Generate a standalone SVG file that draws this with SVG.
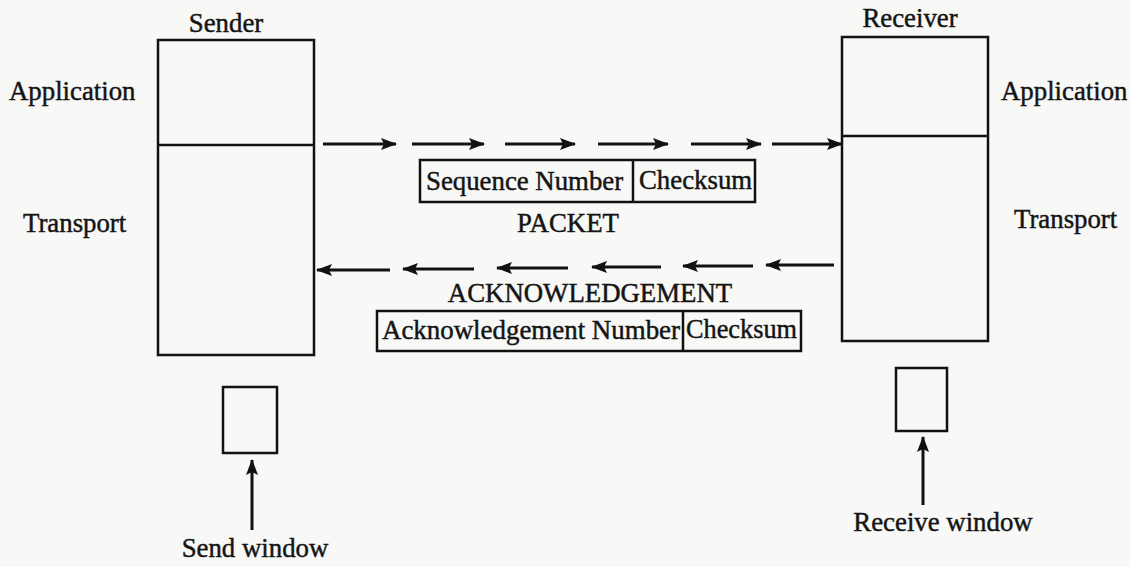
<svg xmlns="http://www.w3.org/2000/svg" width="1130" height="567" viewBox="0 0 1130 567">
  <style>
    .box { fill: none; stroke: #111; stroke-width: 2.5; }
    .txt { font-family: "Liberation Serif", "Times New Roman", serif; font-size: 26.8px; fill: #141414; stroke: #141414; stroke-width: 0.45; }
    .mid { text-anchor: middle; }
    .arr { stroke: #111; stroke-width: 3; fill: none; }
  </style>
  <defs>
    <marker id="head" viewBox="0 0 16 12" refX="15" refY="6" markerWidth="16" markerHeight="12" markerUnits="userSpaceOnUse" orient="auto">
      <path d="M0,0 L16,6 L0,12 L3,6 Z" fill="#111"/>
    </marker>
  </defs>
  <rect width="1130" height="567" fill="#f8f8f6"/>

  <!-- sender stack -->
  <g id="sender">
    <rect class="box" x="158" y="40" width="156" height="315"/>
    <line class="box" x1="158" y1="145" x2="314" y2="145"/>
    <text class="txt mid" x="226" y="32">Sender</text>
    <text class="txt" x="9" y="100">Application</text>
    <text class="txt" x="23" y="232">Transport</text>
  </g>

  <!-- receiver stack -->
  <g id="receiver">
    <rect class="box" x="842" y="37" width="146" height="304"/>
    <line class="box" x1="842" y1="136" x2="988" y2="136"/>
    <text class="txt mid" x="910" y="27">Receiver</text>
    <text class="txt" x="1001" y="100">Application</text>
    <text class="txt" x="1014" y="228">Transport</text>
  </g>

  <!-- packet format -->
  <g id="packet">
    <rect class="box" x="420" y="160" width="335" height="42"/>
    <line class="box" x1="633" y1="160" x2="633" y2="202"/>
    <text class="txt" x="426" y="190">Sequence Number</text>
    <text class="txt" x="639" y="189">Checksum</text>
    <text class="txt mid" x="568" y="232">PACKET</text>
  </g>

  <!-- acknowledgement format -->
  <g id="ack">
    <text class="txt mid" x="590" y="302">ACKNOWLEDGEMENT</text>
    <rect class="box" x="377" y="311" width="424" height="40"/>
    <line class="box" x1="683" y1="311" x2="683" y2="351"/>
    <text class="txt" x="382" y="339" textLength="298" lengthAdjust="spacingAndGlyphs">Acknowledgement Number</text>
    <text class="txt" x="686" y="338" textLength="111" lengthAdjust="spacingAndGlyphs">Checksum</text>
  </g>

  <!-- window buffers -->
  <g id="send-window">
    <rect class="box" x="223" y="387" width="54" height="66"/>
    <text class="txt mid" x="255" y="557">Send window</text>
  </g>
  <g id="receive-window">
    <rect class="box" x="896" y="368" width="51" height="63"/>
    <text class="txt mid" x="943" y="531">Receive window</text>
  </g>

  <!-- connectors -->
  <g id="connectors">
    <!-- packets sender to receiver -->
    <line class="arr" x1="323" y1="144" x2="396" y2="144" marker-end="url(#head)"/>
    <line class="arr" x1="412" y1="144" x2="484" y2="144" marker-end="url(#head)"/>
    <line class="arr" x1="505" y1="144" x2="575" y2="144" marker-end="url(#head)"/>
    <line class="arr" x1="598" y1="144" x2="668" y2="144" marker-end="url(#head)"/>
    <line class="arr" x1="691" y1="144" x2="761" y2="144" marker-end="url(#head)"/>
    <line class="arr" x1="772" y1="144" x2="842" y2="144" marker-end="url(#head)"/>
    <!-- acknowledgements receiver to sender -->
    <line class="arr" x1="390" y1="270" x2="317" y2="270" marker-end="url(#head)"/>
    <line class="arr" x1="474" y1="269" x2="403" y2="269" marker-end="url(#head)"/>
    <line class="arr" x1="568" y1="268" x2="497" y2="268" marker-end="url(#head)"/>
    <line class="arr" x1="661" y1="267" x2="592" y2="267" marker-end="url(#head)"/>
    <line class="arr" x1="753" y1="266" x2="683" y2="266" marker-end="url(#head)"/>
    <line class="arr" x1="834" y1="265" x2="766" y2="265" marker-end="url(#head)"/>
    <!-- window pointers -->
    <line class="arr" x1="252" y1="530" x2="252" y2="460" marker-end="url(#head)"/>
    <line class="arr" x1="923" y1="505" x2="923" y2="437" marker-end="url(#head)"/>
  </g>
</svg>
